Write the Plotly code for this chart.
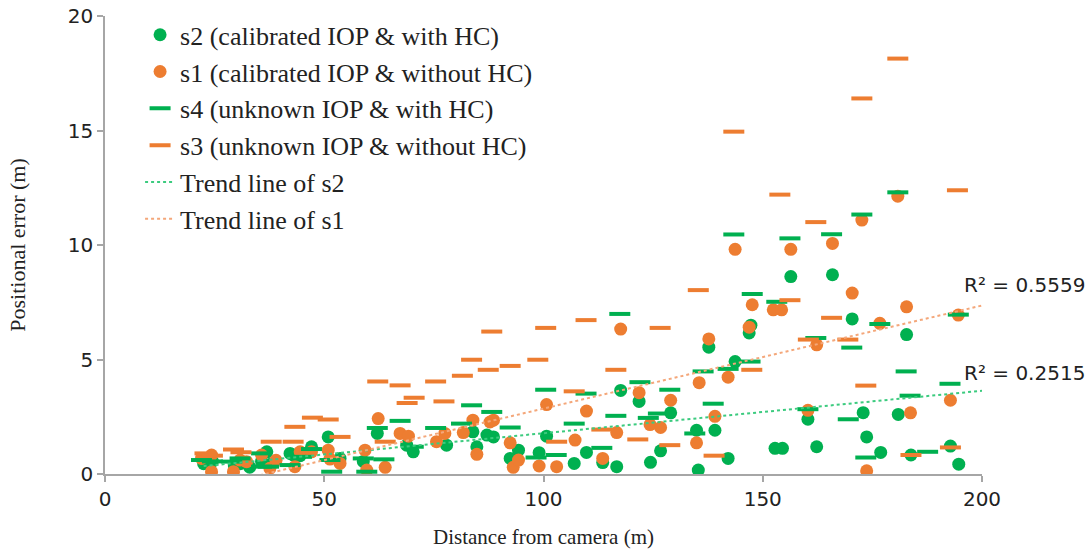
import numpy as np
import plotly.graph_objects as go

# s1: calibrated IOP & without HC (orange circles)
s1_x = [22.0, 24.3, 24.3, 29.3, 30.8, 32.3, 35.7, 37.6, 39.0, 43.3, 44.5, 47.1, 50.9, 51.3, 53.6,
        59.3, 59.7, 62.3, 63.9, 67.3, 69.2, 75.6, 77.5, 81.7, 83.9, 84.8, 87.8, 88.6, 92.4, 93.1,
        94.3, 99.0, 100.7, 103.0, 107.2, 109.8, 113.5, 116.7, 117.6, 121.8, 124.3, 126.7, 129.0,
        134.9, 135.5, 137.7, 139.1, 142.1, 143.7, 146.9, 147.6, 152.4, 154.3, 156.4, 160.3, 162.3,
        165.9, 170.4, 172.6, 173.7, 176.7, 180.8, 182.8, 183.7, 192.8, 194.6]
s1_y = [0.68, 0.83, 0.10, 0.10, 0.61, 0.54, 0.83, 0.25, 0.60, 0.32, 0.97, 0.97, 1.04, 0.65, 0.46,
        1.04, 0.17, 2.42, 0.29, 1.77, 1.65, 1.41, 1.77, 1.81, 2.35, 0.86, 2.27, 2.35, 1.36, 0.29,
        0.61, 0.35, 3.03, 0.32, 1.48, 2.75, 0.68, 1.81, 6.33, 3.55, 2.16, 2.03, 3.22,
        1.36, 3.99, 5.90, 2.52, 4.23, 9.81, 6.41, 7.39, 7.17, 7.17, 9.81, 2.78, 5.64,
        10.07, 7.90, 11.09, 0.14, 6.58, 12.13, 7.30, 2.67, 3.22, 6.94]

# s2: calibrated IOP & with HC (green circles)
s2_x = [22.5, 24.5, 29.5, 30.8, 33.0, 35.7, 36.9, 38.0, 42.2, 42.9, 44.5, 47.1, 50.9, 53.6, 58.9,
        62.1, 68.8, 70.3, 77.9, 83.9, 84.8, 87.1, 88.6, 92.4, 94.3, 99.0, 100.7, 107.0, 109.8,
        113.5, 116.7, 117.6, 121.8, 124.4, 126.7, 129.0, 134.9, 135.3, 137.7, 139.1, 142.1, 143.7,
        146.9, 147.3, 152.8, 154.5, 156.4, 160.3, 162.3, 165.9, 170.4, 172.9, 173.7, 176.9, 180.9,
        182.8, 183.8, 192.8, 194.7]
s2_y = [0.45, 0.55, 0.35, 0.45, 0.30, 0.55, 0.97, 0.45, 0.90, 0.83, 0.80, 1.19, 1.62, 0.68, 0.55,
        1.77, 1.26, 0.97, 1.26, 1.84, 1.19, 1.70, 1.62, 0.68, 1.04, 0.93, 1.65, 0.46, 0.94,
        0.50, 0.32, 3.65, 3.17, 0.51, 1.01, 2.67, 1.91, 0.17, 5.54, 1.91, 0.68, 4.91,
        6.16, 6.50, 1.12, 1.12, 8.62, 2.39, 1.19, 8.70, 6.77, 2.68, 1.62, 0.94, 2.60,
        6.09, 0.83, 1.22, 0.43]

# s4: unknown IOP & with HC (green dashes)
s4_x = [22.0, 24.5, 28.9, 30.8, 35.7, 35.7, 37.3, 42.2, 44.8, 47.1, 51.3, 51.7, 58.9, 59.7, 62.1,
        63.6, 67.3, 70.3, 75.4, 81.3, 83.6, 88.2, 92.4, 98.3, 100.5, 102.9, 107.0, 109.7, 113.3,
        116.5, 117.4, 122.0, 123.9, 126.2, 128.8, 134.5, 136.4, 138.7, 142.1, 143.4, 147.1, 147.6,
        153.2, 156.2, 160.3, 162.1, 165.7, 169.5, 170.3, 172.6, 173.5, 176.7, 180.8, 182.7, 183.6,
        187.6, 192.7, 194.6]
s4_y = [0.61, 0.55, 0.54, 0.68, 0.90, 0.32, 0.32, 0.39, 0.75, 1.09, 0.61, 0.10, 0.68, 0.10, 2.01,
        0.64, 2.32, 1.19, 2.01, 2.20, 3.00, 2.71, 2.03, 0.72, 3.68, 0.83, 2.20, 3.51, 1.14,
        2.54, 6.99, 4.01, 2.45, 2.64, 3.68, 1.77, 4.48, 3.07, 4.59, 10.46, 4.91, 7.86,
        7.52, 10.29, 2.83, 5.94, 10.47, 2.39, 5.52, 11.33, 0.72, 6.55, 12.30, 4.48, 3.42,
        0.97, 3.94, 6.96]

# s3: unknown IOP & without HC (orange dashes)
s3_x = [22.8, 24.5, 29.3, 31.0, 37.9, 42.9, 43.3, 47.3, 50.9, 53.6, 62.2, 63.9, 67.3, 68.9, 70.5,
        75.4, 77.3, 81.5, 83.6, 87.4, 88.2, 92.4, 98.7, 100.5, 103.0, 107.0, 109.7, 113.3, 116.5,
        121.5, 126.6, 128.8, 135.3, 138.9, 143.4, 147.5, 153.9, 156.2, 160.4, 162.1, 165.7, 169.4,
        172.6, 173.5, 180.8, 183.8, 192.8, 194.4]
s3_y = [0.90, 0.80, 1.07, 0.95, 1.41, 1.41, 2.06, 2.46, 2.38, 1.62, 4.04, 1.41, 3.87, 3.10, 3.33,
        4.04, 3.17, 4.29, 4.99, 4.55, 6.22, 4.72, 4.99, 6.38, 1.41, 3.61, 6.72, 1.94, 4.55,
        1.51, 6.38, 1.26, 8.03, 0.80, 14.95, 4.55, 12.20, 7.59, 5.87, 11.00, 6.82, 5.87,
        16.40, 3.86, 18.14, 0.83, 1.16, 12.39]

r2_labels = ["R² = 0.5559", "R² = 0.2515"]
x_ticks = [0, 50, 100, 150, 200]
y_ticks = [0, 5, 10, 15, 20]

GREEN = "#00B050"
ORANGE = "#ED7D31"

fig = go.Figure()
fig.add_trace(go.Scatter(x=s2_x, y=s2_y, mode="markers", name="s2 (calibrated IOP & with HC)",
                         marker=dict(color=GREEN, size=13, symbol="circle"), legendgroup="a"))
fig.add_trace(go.Scatter(x=s1_x, y=s1_y, mode="markers", name="s1 (calibrated IOP & without HC)",
                         marker=dict(color=ORANGE, size=13, symbol="circle"), legendgroup="b"))
fig.add_trace(go.Scatter(x=s4_x, y=s4_y, mode="markers", name="s4 (unknown IOP & with HC)",
                         marker=dict(symbol="line-ew", size=15, line=dict(color=GREEN, width=4)),
                         legendgroup="c"))
fig.add_trace(go.Scatter(x=s3_x, y=s3_y, mode="markers", name="s3 (unknown IOP & without HC)",
                         marker=dict(symbol="line-ew", size=15, line=dict(color=ORANGE, width=4)),
                         legendgroup="d"))

# Linear trend lines (least squares) for s2 and s1
def trend(xs, ys):
    k, b = np.polyfit(xs, ys, 1)
    xx = np.array([min(xs), 200.0])
    return xx, k * xx + b

tx2, ty2 = trend(s2_x, s2_y)
tx1, ty1 = trend(s1_x, s1_y)
fig.add_trace(go.Scatter(x=tx2, y=ty2, mode="lines", name="Trend line of s2",
                         line=dict(color="#3CCB7F", width=2, dash="dot"), legendgroup="e"))
fig.add_trace(go.Scatter(x=tx1, y=ty1, mode="lines", name="Trend line of s1",
                         line=dict(color="#F4A77A", width=2, dash="dot"), legendgroup="f"))

fig.add_annotation(x=195.4, y=8.25, text=r2_labels[0], showarrow=False, xanchor="left",
                   font=dict(family="DejaVu Sans", size=20, color="#222222"))
fig.add_annotation(x=195.4, y=4.42, text=r2_labels[1], showarrow=False, xanchor="left",
                   font=dict(family="DejaVu Sans", size=20, color="#222222"))

axis_common = dict(showgrid=False, zeroline=False, showline=True, linecolor="#A6A6A6", linewidth=1.5,
                   ticks="outside", tickcolor="#A6A6A6", ticklen=6, tickwidth=1.5, automargin=False,
                   tickfont=dict(family="DejaVu Sans", size=20, color="#222222"))

fig.update_layout(
    width=1091, height=556,
    margin=dict(l=105, r=109, t=15, b=82),
    plot_bgcolor="white", paper_bgcolor="white",
    xaxis=dict(range=[0, 200], tickvals=x_ticks,
               title=dict(text="Distance from camera (m)", standoff=20,
                          font=dict(family="Liberation Serif", size=21, color="#222222")),
               **axis_common),
    yaxis=dict(range=[0, 20], tickvals=y_ticks,
               title=dict(text="Positional error (m)", standoff=36,
                          font=dict(family="Liberation Serif", size=22, color="#222222")),
               **axis_common),
    legend=dict(x=0.04, y=1.008, xanchor="left", yanchor="top", bgcolor="rgba(255,255,255,0)",
                font=dict(family="Liberation Serif", size=26, color="#222222"),
                tracegroupgap=0, itemwidth=30),
    showlegend=True,
)

fig.write_html("out.html", post_script="document.body.style.margin='0px';",
               config={"displayModeBar": False})
